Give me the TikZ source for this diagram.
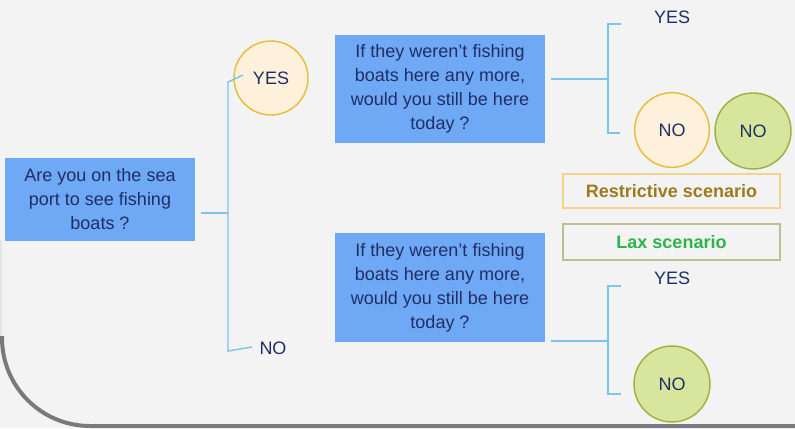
\documentclass[tikz,border=0pt]{standalone}
\usepackage{fontspec}
\setmainfont{Liberation Sans}
\definecolor{bg}{HTML}{F3F3F3}
\definecolor{qblue}{HTML}{6FA8F5}
\definecolor{navy}{HTML}{1F2F66}
\definecolor{lblue}{HTML}{7CC4EC}
\definecolor{cream}{HTML}{FDF1DC}
\definecolor{gold}{HTML}{E9BD3C}
\definecolor{lgreen}{HTML}{D7E69C}
\definecolor{olive}{HTML}{9DB243}
\definecolor{restr}{HTML}{9C7A1E}
\definecolor{restrb}{HTML}{F2D48A}
\definecolor{laxg}{HTML}{2DB34A}
\definecolor{laxb}{HTML}{B8C28E}
\definecolor{edge}{HTML}{7A7A7A}
\begin{document}
\begin{tikzpicture}[x=0.75pt,y=-0.75pt,
  qbox/.style={fill=qblue, text=navy, align=center, inner sep=0pt, font=\fontsize{13.5}{18}\selectfont},
  lbl/.style={text=navy, inner sep=0pt, font=\fontsize{13.5}{15}\selectfont},
  yescirc/.style={circle, fill=cream, draw=gold, line width=1.1pt, text=navy, inner sep=0pt, font=\fontsize{13.5}{15}\selectfont},
  grcirc/.style={circle, fill=lgreen, draw=olive, line width=1.1pt, text=navy, inner sep=0pt, font=\fontsize{13.5}{15}\selectfont},
  conn/.style={draw=lblue, line width=1.1pt},
  scen/.style={fill=bg, line width=0.9pt, inner sep=0pt, minimum width=162.75pt, font=\bfseries\fontsize{13.5}{15}\selectfont}]
\fill[bg] (0,0) rectangle (795,428);
\useasboundingbox (0,0) rectangle (795,428);
\draw[edge!20, line width=1.5pt] (1,240) -- (1,340);
\draw[edge, line width=3pt, rounded corners=66pt] (2,336) -- (2,426) -- (800,426);

% left question
\node[qbox, minimum width=142.5pt, minimum height=62.25pt] (q0) at (100,199.5) {Are you on the sea\\port to see fishing\\boats ?};
\node[yescirc, minimum size=55.5pt] (yes1) at (271,78) {YES};
\node[lbl] (no1) at (273,348) {NO};

\coordinate (s1) at (201,213);
\coordinate (j1) at (228,213);
\coordinate (t1) at (228,82);
\coordinate (b1) at (228,351);
\coordinate (ty1) at (243,75);
\coordinate (tn1) at (252,347);
\draw[conn] (s1) -- (j1);
\draw[conn] (ty1) -- (t1) -- (b1) -- (tn1);

% upper question
\node[qbox, minimum width=157.5pt, minimum height=81pt] (q1) at (440,89) {If they weren't fishing\\boats here any more,\\would you still be here\\today ?};
\node[lbl] (yes2) at (672,17) {YES};
\node[yescirc, minimum size=56pt] (no2) at (672,130) {NO};
\node[grcirc, minimum size=57pt] (no3) at (753,131) {NO};
\coordinate (s2) at (551,79);
\coordinate (j2) at (608,79);
\coordinate (t2) at (608,24);
\coordinate (b2) at (608,133);
\coordinate (ty2) at (621,24);
\coordinate (tn2) at (620,133);
\draw[conn] (s2) -- (j2);
\draw[conn] (ty2) -- (t2) -- (b2) -- (tn2);

% scenarios
\node[scen, draw=restrb, text=restr, minimum height=25.5pt] (rs) at (671.5,191) {Restrictive scenario};
\node[scen, draw=laxb, text=laxg, minimum height=27pt] (lx) at (671.5,242) {Lax scenario};

% lower question
\node[qbox, minimum width=157.5pt, minimum height=81.75pt] (q2) at (440,287.5) {If they weren't fishing\\boats here any more,\\would you still be here\\today ?};
\node[lbl] (yes4) at (672,278) {YES};
\node[grcirc, minimum size=57pt] (no4) at (672,384) {NO};
\coordinate (s3) at (551,341);
\coordinate (j3) at (608,341);
\coordinate (t3) at (608,286);
\coordinate (b3) at (608,394);
\coordinate (ty3) at (621,286);
\coordinate (tn3) at (621,394);
\draw[conn] (s3) -- (j3);
\draw[conn] (ty3) -- (t3) -- (b3) -- (tn3);
\end{tikzpicture}
\end{document}
